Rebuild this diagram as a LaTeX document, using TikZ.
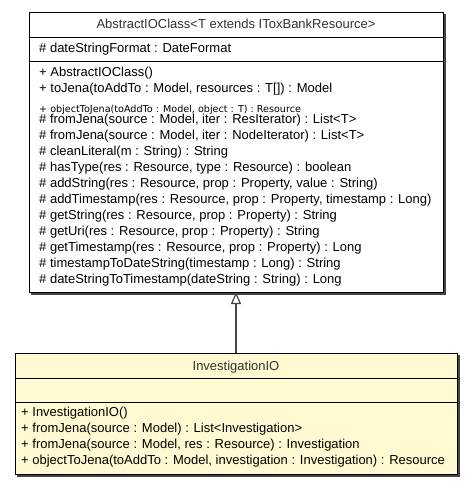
\documentclass[tikz,border=0pt]{standalone}
\usepackage{fontspec}
\setmainfont{Liberation Sans}
\newfontfamily\smallfam{DejaVu Sans}
\usetikzlibrary{arrows.meta}
\definecolor{classfill}{RGB}{255,250,210}
\definecolor{shadowgray}{RGB}{70,70,70}
\definecolor{titlegray}{RGB}{50,50,50}
\definecolor{linkgray}{RGB}{70,70,70}
\tikzset{
  classbox/.style={draw=black, line width=1pt, inner sep=0pt, outer sep=0pt},
  shadowbox/.style={fill=shadowgray, draw=none},
  sepline/.style={draw=black, line width=1pt},
  member/.style={anchor=base west, inner sep=0pt, font=\fontsize{13}{16}\selectfont, text=black},
  title/.style={anchor=base, inner sep=0pt, font=\fontsize{13}{16}\selectfont, text=titlegray},
  tiny/.style={anchor=base west, inner sep=0pt, font=\smallfam\fontsize{9.6}{10}\selectfont, text=black},
  inherit/.style={draw=linkgray, line width=1.4pt, -{Triangle[open, length=12pt, width=10pt, line width=1.2pt]}}
}
\begin{document}
\begin{tikzpicture}[x=1pt, y=-1pt]
\useasboundingbox (0,0) rectangle (472,485);
% shadows
\fill[shadowgray] (31,14) rectangle (445.5,294.5);
\fill[shadowgray] (17,355) rectangle (459.5,476.5);
% abstract class
\node[classbox, fill=white, minimum width=414pt, minimum height=280pt] (abs) at (236,152) {};
\draw[sepline] (abs.west |- 0,37) -- (abs.east |- 0,37);
\draw[sepline] (abs.west |- 0,61) -- (abs.east |- 0,61);
\node[title] (absname) at (236,28) {AbstractIOClass<T extends IToxBankResource>};
\node[member] (a1) at (39,52.5) {\# dateStringFormat : DateFormat};
\node[member] (m1) at (39,76.5) {+ AbstractIOClass()};
\node[member] (m2) at (39,92.5) {+ toJena(toAddTo : Model, resources : T[]) : Model};
\node[tiny] (m3) at (39,112) {+ objectToJena(toAddTo : Model, object : T) : Resource};
\node[member] (m4) at (39,123.5) {\# fromJena(source : Model, iter : ResIterator) : List<T>};
\node[member] (m5) at (39,139.5) {\# fromJena(source : Model, iter : NodeIterator) : List<T>};
\node[member] (m6) at (39,155.5) {\# cleanLiteral(m : String) : String};
\node[member] (m7) at (39,171.5) {\# hasType(res : Resource, type : Resource) : boolean};
\node[member] (m8) at (39,187.5) {\# addString(res : Resource, prop : Property, value : String)};
\node[member] (m9) at (39,203.5) {\# addTimestamp(res : Resource, prop : Property, timestamp : Long)};
\node[member] (m10) at (39,219.5) {\# getString(res : Resource, prop : Property) : String};
\node[member] (m11) at (39,235.5) {\# getUri(res : Resource, prop : Property) : String};
\node[member] (m12) at (39,251.5) {\# getTimestamp(res : Resource, prop : Property) : Long};
\node[member] (m13) at (39,267.5) {\# timestampToDateString(timestamp : Long) : String};
\node[member] (m14) at (39,283.5) {\# dateStringToTimestamp(dateString : String) : Long};
% concrete class
\node[classbox, fill=classfill, minimum width=442pt, minimum height=121pt] (inv) at (236,413.5) {};
\draw[sepline] (inv.west |- 0,378) -- (inv.east |- 0,378);
\draw[sepline] (inv.west |- 0,402) -- (inv.east |- 0,402);
\node[title] (invname) at (236,370) {InvestigationIO};
\node[member] (n1) at (21,416.5) {+ InvestigationIO()};
\node[member] (n2) at (21,432.5) {+ fromJena(source : Model) : List<Investigation>};
\node[member] (n3) at (21,448.5) {+ fromJena(source : Model, res : Resource) : Investigation};
\node[member] (n4) at (21,464.5) {+ objectToJena(toAddTo : Model, investigation : Investigation) : Resource};
% generalization
\draw[inherit] (inv.north) -- (abs.south);
\end{tikzpicture}
\end{document}
